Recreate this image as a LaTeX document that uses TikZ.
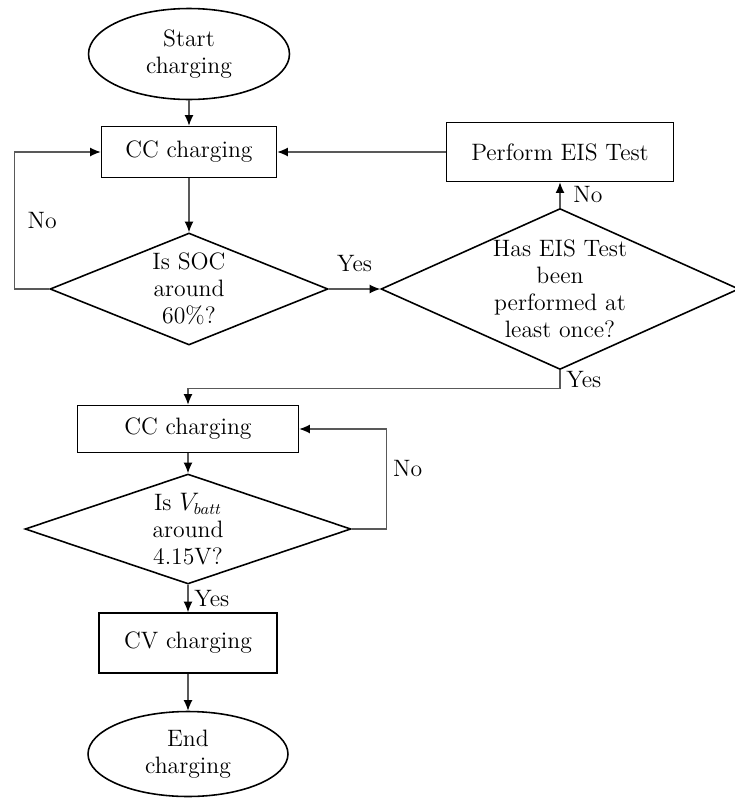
\documentclass[tikz,border=0pt]{standalone}
\usepackage{amsmath}
\usepackage{tikz}
\usetikzlibrary{shapes.geometric, arrows.meta}

\begin{document}
\begin{tikzpicture}[x=0.02cm, y=-0.02cm,
    every node/.style={font=\fontsize{13.5}{15.4}\selectfont, align=center},
    term/.style={ellipse, draw, line width=0.9pt, inner sep=1pt},
    proc/.style={rectangle, draw, line width=0.9pt},
    decision/.style={diamond, draw, line width=0.9pt, inner sep=0pt},
    flow/.style={draw=black!65, line width=0.6pt, -{Latex[black, length=6pt, width=5pt]}}]
    \useasboundingbox (0,0) rectangle (734,798);

    % States
    \node[term, minimum width=4.02cm, minimum height=1.82cm] (START) at (189,54) {Start\\charging};
    \node[proc, minimum width=3.5cm, minimum height=1.02cm] (CC1) at (189,152) {CC charging};
    \node[decision, shape aspect=2.48, minimum width=5.56cm, minimum height=2.24cm] (SOC) at (189,289) {Is SOC\\around\\60\%?};
    \node[proc, minimum width=4.54cm, minimum height=1.18cm] (EIS) at (560,152) {Perform EIS Test};
    \node[decision, shape aspect=2.24, minimum width=7.16cm, minimum height=3.22cm] (DONE) at (560,289) {Has EIS Test\\been\\performed at\\least once?};
    \node[proc, minimum width=4.42cm, minimum height=0.94cm] (CC2) at (188,429) {CC charging};
    \node[decision, shape aspect=2.96, minimum width=6.52cm, minimum height=2.2cm] (VBATT) at (188,529) {Is $V_{batt}$\\around\\4.15V?};
    \node[proc, minimum width=3.56cm, minimum height=1.2cm] (CV) at (188,643) {CV charging};
    \node[term, minimum width=4.0cm, minimum height=1.7cm] (END) at (188,754) {End\\charging};

    % Transitions
    \draw[flow] (START) -- (CC1);
    \draw[flow] (CC1) -- (SOC);
    \draw[flow] (SOC.west) -- ++(-35,0) |- node[pos=0.25, right=4pt] {No} (CC1.west);
    \draw[flow] (SOC.east) -- node[above=6pt] {Yes} (DONE.west);
    \draw[flow] (DONE.north) -- node[right=4pt] {No} (EIS.south);
    \draw[flow] (EIS.west) -- (CC1.east);
    \draw[flow] (DONE.south) -- node[right] {Yes} ++(0,18) -| (CC2.north);
    \draw[flow] (CC2) -- (VBATT);
    \draw[flow] (VBATT.east) -- ++(35,0) |- node[pos=0.3, right] {No} (CC2.east);
    \draw[flow] (VBATT.south) -- node[right] {Yes} (CV.north);
    \draw[flow] (CV) -- (END);
\end{tikzpicture}
\end{document}
